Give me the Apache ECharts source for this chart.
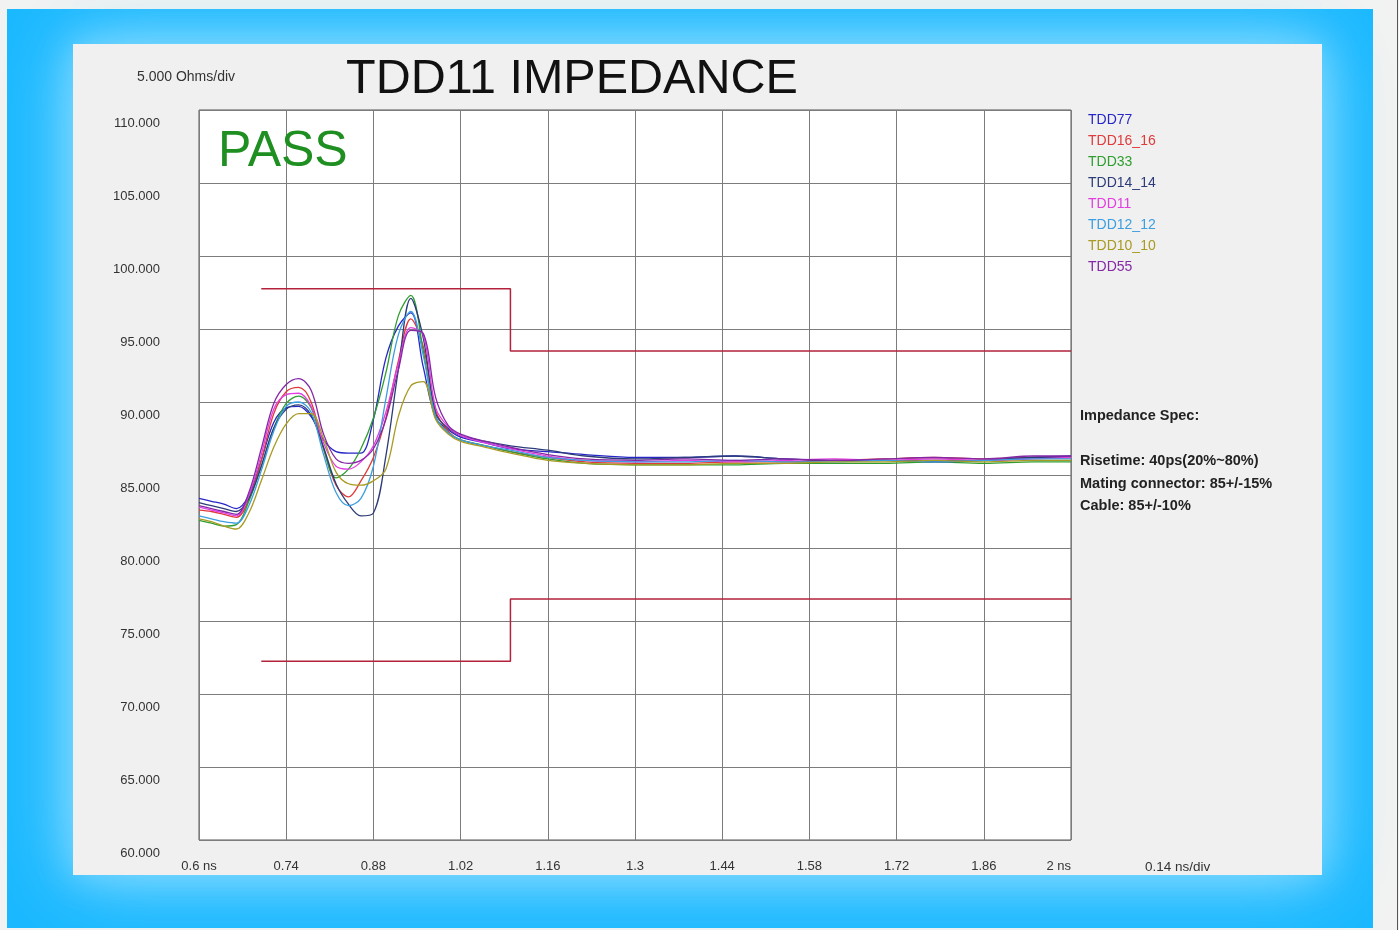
<!DOCTYPE html>
<html>
<head>
<meta charset="utf-8">
<title>TDD11 IMPEDANCE</title>
<script src="https://cdn.jsdelivr.net/npm/echarts@6/dist/echarts.min.js"></script>
<style>
  html, body { margin: 0; padding: 0; background: #f2f2f2; }
  #chart { width: 1399px; height: 930px; }
</style>
</head>
<body>
<div id="chart"></div>
<script>
// time base of the TDR traces (ns)
var timeNs = [0.60, 0.62, 0.64, 0.66, 0.68, 0.70, 0.72, 0.74, 0.76, 0.78, 0.80, 0.82, 0.84, 0.86, 0.88, 0.90, 0.92, 0.94, 0.96, 0.98,
  1.00, 1.02, 1.06, 1.10, 1.16, 1.22, 1.30, 1.38, 1.46, 1.54, 1.62, 1.70, 1.78, 1.86, 1.94, 2.00]

// impedance per pair (Ohms)
var tdd77 = [83.4, 83.2, 83.0, 82.7, 83.6, 86.0, 88.6, 89.6, 89.7, 89.0, 87.4, 86.6, 86.5, 86.5, 88.8, 93.0, 95.2, 96.1, 92.4, 88.9,
  88.1, 87.6, 87.2, 86.8, 86.6, 86.4, 86.2, 86.2, 86.3, 86.1, 86.0, 86.0, 86.0, 86.0, 86.2, 86.3]
var tdd16_16 = [82.6, 82.5, 82.3, 82.1, 83.3, 86.0, 89.2, 90.7, 91.0, 90.0, 86.8, 84.3, 83.5, 84.6, 86.2, 88.9, 92.8, 95.7, 93.8, 89.4,
  88.0, 87.4, 87.0, 86.6, 86.2, 85.9, 85.8, 85.8, 85.9, 85.9, 86.0, 86.1, 86.2, 86.1, 86.2, 86.2]
var tdd33 = [81.9, 81.7, 81.5, 81.6, 83.2, 85.6, 88.2, 89.9, 90.4, 89.6, 86.8, 84.8, 85.4, 86.8, 88.9, 92.0, 95.9, 97.3, 93.5, 89.0,
  87.9, 87.4, 87.0, 86.6, 86.1, 85.8, 85.7, 85.7, 85.7, 85.8, 85.8, 85.8, 85.9, 85.8, 85.9, 85.9]
var tdd14_14 = [83.1, 82.9, 82.7, 82.5, 83.4, 85.6, 88.2, 89.5, 89.8, 89.1, 86.9, 84.4, 83.0, 82.2, 82.4, 86.3, 92.2, 97.1, 94.4, 89.2,
  88.2, 87.7, 87.3, 87.0, 86.7, 86.3, 86.1, 86.2, 86.3, 86.1, 86.0, 86.0, 85.9, 86.0, 86.2, 86.2]
var tdd11 = [82.8, 82.6, 82.4, 82.2, 83.6, 86.4, 89.5, 90.5, 90.6, 89.7, 87.2, 85.6, 85.4, 85.9, 87.0, 89.3, 92.6, 95.1, 94.6, 89.6,
  88.3, 87.7, 87.2, 86.8, 86.3, 86.0, 85.9, 86.0, 85.9, 86.0, 86.1, 86.0, 86.1, 86.0, 86.1, 86.2]
var tdd12_12 = [82.2, 82.0, 81.8, 81.7, 82.9, 85.3, 88.0, 89.7, 90.0, 89.3, 86.4, 83.8, 82.9, 83.4, 85.6, 90.2, 94.6, 96.2, 93.2, 89.0,
  87.9, 87.4, 87.0, 86.7, 86.2, 86.0, 85.9, 85.9, 86.0, 85.9, 85.9, 86.0, 85.9, 86.0, 86.1, 86.1]
var tdd10_10 = [82.0, 81.8, 81.5, 81.3, 82.4, 84.6, 86.9, 88.5, 89.2, 89.2, 87.5, 85.2, 84.4, 84.3, 84.6, 85.4, 89.0, 91.1, 91.4, 88.8,
  87.8, 87.3, 86.9, 86.5, 86.0, 85.8, 85.7, 85.7, 85.8, 85.8, 85.9, 85.9, 86.0, 85.9, 86.0, 86.0]
var tdd55 = [82.9, 82.7, 82.5, 82.3, 83.8, 86.8, 89.9, 91.2, 91.6, 90.8, 87.8, 86.1, 85.8, 86.0, 86.8, 88.8, 92.2, 94.9, 94.7, 90.3,
  88.4, 87.8, 87.3, 86.9, 86.4, 86.1, 86.0, 86.1, 86.0, 86.1, 86.0, 86.1, 86.2, 86.1, 86.3, 86.3]

var seriesNames = ['TDD77', 'TDD16_16', 'TDD33', 'TDD14_14', 'TDD11', 'TDD12_12', 'TDD10_10', 'TDD55']
var seriesValues = [tdd77, tdd16_16, tdd33, tdd14_14, tdd11, tdd12_12, tdd10_10, tdd55]
var seriesColors = ['#2626c8', '#e03a3a', '#2f9e2f', '#2c3c78', '#e23ee2', '#3c9ee0', '#a89a22', '#8428a6']

// spec limits: mating connector 85 +/-15%, cable 85 +/-10%
var limitTime = [0.70, 1.10, 1.10, 2.00]
var upperLimit = [97.75, 97.75, 93.5, 93.5]
var lowerLimit = [72.25, 72.25, 76.5, 76.5]

// axis ticks
var xStart = 0.6
var xStep = 0.14
var xTickLabels = ['0.6 ns', '0.74', '0.88', '1.02', '1.16', '1.3', '1.44', '1.58', '1.72', '1.86', '2 ns']
var yMin = 60
var yMax = 110
var yStep = 5

var specText = ['Impedance Spec:', '', 'Risetime: 40ps(20%~80%)', 'Mating connector: 85+/-15%', 'Cable: 85+/-10%']

function pairs (times, values) {
  // x axis runs from 0 so the 0.14 ns ticks line up with min
  return times.map(function (t, i) {
    return [+(t - xStart).toFixed(4), values[i]]
  })
}

var series = []
var legendData = []
for (var i = 0; i < seriesNames.length; i++) {
  series.push({
    name: seriesNames[i],
    type: 'line',
    data: pairs(timeNs, seriesValues[i]),
    showSymbol: false,
    smooth: 0.35,
    silent: true,
    color: seriesColors[i],
    lineStyle: { width: 1.3, color: seriesColors[i] }
  })
  legendData.push({ name: seriesNames[i], textStyle: { color: seriesColors[i] } })
}
series.push({
  name: 'upper limit', type: 'line', data: pairs(limitTime, upperLimit),
  showSymbol: false, silent: true, z: 1, lineStyle: { width: 1.5, color: '#b3223a' }
})
series.push({
  name: 'lower limit', type: 'line', data: pairs(limitTime, lowerLimit),
  showSymbol: false, silent: true, z: 1, lineStyle: { width: 1.5, color: '#b3223a' }
})

var font = 'Arial, "Liberation Sans", sans-serif'

var graphics = [
  // blue frame and grey panel
  { type: 'rect', z: -100, shape: { x: 7, y: 9, width: 1366, height: 919 }, style: { fill: '#1ab8ff' } },
  { type: 'rect', z: -99, shape: { x: 73, y: 44, width: 1249, height: 831 },
    style: { fill: '#f0f0f0', shadowBlur: 70, shadowColor: 'rgba(160,228,255,1)' } },
  { type: 'rect', z: -98, shape: { x: 73, y: 44, width: 1249, height: 831 },
    style: { fill: '#f0f0f0', shadowBlur: 30, shadowColor: 'rgba(120,214,255,0.8)' } },
  { type: 'line', z: -97, shape: { x1: 1397.5, y1: 0, x2: 1397.5, y2: 930 }, style: { stroke: '#555', lineWidth: 1 } },
  { type: 'text', x: 137, y: 77, style: { text: '5.000 Ohms/div', font: '14px ' + font, fill: '#333', verticalAlign: 'middle' } },
  { type: 'text', x: 1145, y: 867, style: { text: '0.14 ns/div', font: '13.5px ' + font, fill: '#333', verticalAlign: 'middle' } },
  { type: 'text', x: 218, y: 152, z: 1, style: { text: 'PASS', font: '50px ' + font, fill: '#1f8f22', verticalAlign: 'middle' } }
]
var specY = [416, 438, 461, 484, 506]
for (var k = 0; k < specText.length; k++) {
  if (!specText[k]) continue
  graphics.push({ type: 'text', x: 1080, y: specY[k],
    style: { text: specText[k], font: 'bold 14.5px ' + font, fill: '#222', verticalAlign: 'middle' } })
}

var myChart = echarts.init(document.getElementById('chart'))
var option = {
  animation: false,
  title: {
    text: 'TDD11 IMPEDANCE',
    left: 346,
    top: 55,
    padding: 0,
    textStyle: { fontFamily: font, fontSize: 48.5, fontWeight: 'normal', color: '#111' }
  },
  legend: {
    orient: 'vertical',
    left: 1082,
    top: 113,
    padding: 0,
    itemWidth: 0,
    itemHeight: 0,
    itemGap: 7,
    selectedMode: false,
    textStyle: { fontFamily: font, fontSize: 14, lineHeight: 14 },
    data: legendData
  },
  grid: {
    left: 199,
    top: 110,
    width: 872,
    height: 730,
    show: true,
    backgroundColor: '#ffffff',
    borderColor: '#555',
    borderWidth: 1
  },
  xAxis: {
    type: 'value',
    min: 0,
    max: +(xStep * 10).toFixed(2),
    interval: xStep,
    axisLine: { show: false },
    axisTick: { show: false },
    splitLine: { show: true, lineStyle: { color: '#7c7c7c', width: 1 } },
    axisLabel: {
      margin: 20,
      color: '#333',
      fontFamily: font,
      fontSize: 13,
      alignMaxLabel: 'right',
      formatter: function (v) {
        return xTickLabels[Math.round(v / xStep)] || ''
      }
    }
  },
  yAxis: {
    type: 'value',
    min: yMin,
    max: yMax,
    interval: yStep,
    axisLine: { show: false },
    axisTick: { show: false },
    splitLine: { show: true, lineStyle: { color: '#7c7c7c', width: 1 } },
    axisLabel: {
      margin: 39,
      color: '#333',
      fontFamily: font,
      fontSize: 13,
      verticalAlign: 'top',
      padding: [7, 0, 0, 0],
      formatter: function (v) { return v.toFixed(3) }
    }
  },
  graphic: graphics,
  series: series
}
myChart.setOption(option)
</script>
</body>
</html>
